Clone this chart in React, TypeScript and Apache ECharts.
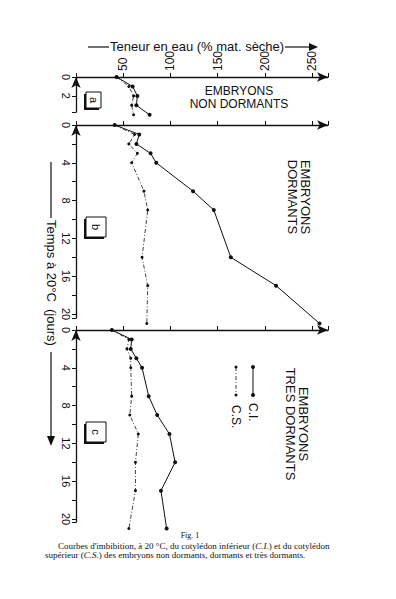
import React, { useEffect, useRef } from "react";
import * as echarts from "echarts";

// ---- data ----
const daysA = [0, 1, 2, 3, 4];
const ciA = [43, 60, 65, 64, 78];
const csA = [43, 56, 61, 59, 61];

const daysB = [0, 1, 2, 3, 4, 7, 9, 14, 17, 21];
const ciB = [41, 67, 64, 79, 85, 124, 146, 164, 212, 258];
const csB = [41, 62, 56, 65, 59, 72, 76, 70, 76, 75];

const daysC = [0, 1, 2, 3, 4, 7, 9, 11, 14, 17, 21];
const ciC = [38, 59, 58, 64, 70, 77, 86, 99, 105, 90, 96];
const csC = [38, 56, 54, 58, 58, 59, 57, 66, 63, 63, 56];

const waterTickLabels = [50, 100, 150, 200, 250];
const dayTickLabelsA = [0, 2];
const dayTickLabels = [0, 4, 8, 12, 16, 20];

const panelNames = ["a", "b", "c"];
const panelTitleA = ["EMBRYONS", "NON DORMANTS"];
const panelTitles = ["EMBRYONS\nDORMANTS", "EMBRYONS\nTRES DORMANTS"];

const INK = "#111";
const SANS = "'Liberation Sans', 'DejaVu Sans', sans-serif";
const SERIF = "'Liberation Serif', 'DejaVu Serif', serif";

const pair = (xs: number[], ys: number[]) => xs.map((d, i) => [ys[i], d]);

export default function App() {
  const ref = useRef<HTMLDivElement>(null);
  useEffect(() => {
    if (!ref.current) return;
    const chart = echarts.init(ref.current, null, { renderer: "svg" });
    const pxDay = 9.45;
    const grids = [
      { left: 76, top: 77, width: 252, height: 35 },
      { left: 76, top: 125, width: 252, height: 193 },
      { left: 76, top: 330, width: 252, height: 192 },
    ];
    const yMax = grids.map((g) => g.height / pxDay);
    const dayLabelSets = [dayTickLabelsA, dayTickLabels, dayTickLabels];

    const xAxis = grids.map((_, i) => ({
      gridIndex: i,
      type: "value",
      position: "top",
      min: 0,
      max: 267,
      interval: 50,
      axisLine: {
        show: true,
        onZero: false,
        symbol: ["none", "arrow"],
        symbolSize: [7, 11],
        lineStyle: { color: INK, width: 1.3 },
      },
      axisTick: { show: true, length: 4, lineStyle: { color: INK, width: 1 } },
      axisLabel:
        i === 0
          ? {
              show: true,
              rotate: -90,
              margin: 6,
              fontSize: 12,
              fontFamily: SANS,
              color: INK,
              formatter: (v: number) => (waterTickLabels.includes(v) ? String(v) : ""),
            }
          : { show: false },
      splitLine: { show: false },
    }));

    const yAxis = grids.map((_, i) => ({
      gridIndex: i,
      type: "value",
      inverse: true,
      min: 0,
      max: yMax[i],
      interval: 2,
      axisLine: {
        show: true,
        onZero: false,
        symbol: ["none", "arrow"],
        symbolSize: [7, 11],
        lineStyle: { color: INK, width: 1.3 },
      },
      axisTick: { show: true, length: 4, lineStyle: { color: INK, width: 1 } },
      axisLabel: {
        show: true,
        rotate: -90,
        margin: 5,
        fontSize: 11,
        fontFamily: SANS,
        color: INK,
        formatter: (v: number) => (dayLabelSets[i].includes(v) ? String(v) : ""),
      },
      splitLine: { show: false },
    }));

    const sets = [
      [daysA, ciA, csA],
      [daysB, ciB, csB],
      [daysC, ciC, csC],
    ];
    const series: any[] = [];
    sets.forEach(([d, ci, cs], i) => {
      series.push({
        type: "line",
        name: "C.I.",
        xAxisIndex: i,
        yAxisIndex: i,
        data: pair(d, ci),
        clip: false,
        symbol: "circle",
        symbolSize: 4,
        itemStyle: { color: INK },
        lineStyle: { color: INK, width: 1 },
      });
      series.push({
        type: "line",
        name: "C.S.",
        xAxisIndex: i,
        yAxisIndex: i,
        data: pair(d, cs),
        clip: false,
        symbol: "circle",
        symbolSize: 3,
        itemStyle: { color: INK },
        lineStyle: { color: INK, width: 0.8, type: [4, 2, 1, 2] },
      });
    });

    const boxes = [
      { x: 86, y: 92, w: 15, h: 16 },
      { x: 86, y: 217, w: 20, h: 20 },
      { x: 86, y: 422, w: 20, h: 20 },
    ];
    const graphic: any[] = [];
    boxes.forEach((b, i) => {
      graphic.push({ type: "rect", shape: { x: b.x - 2, y: b.y + 2, width: b.w, height: b.h }, style: { fill: INK } });
      graphic.push({ type: "rect", shape: { x: b.x, y: b.y, width: b.w, height: b.h }, style: { fill: "#fff", stroke: INK, lineWidth: 1 } });
      graphic.push({
        type: "text",
        x: b.x + b.w / 2,
        y: b.y + b.h / 2,
        rotation: -Math.PI / 2,
        style: { text: panelNames[i], fontSize: 11, fontFamily: SANS, fill: INK, align: "center", verticalAlign: "middle" },
      });
    });

    // panel titles
    graphic.push({
      type: "text", x: 239, y: 91,
      style: { text: panelTitleA[0], fontSize: 12, fontFamily: SANS, fill: INK, align: "center", verticalAlign: "middle" },
    });
    graphic.push({
      type: "text", x: 239, y: 103.5,
      style: { text: panelTitleA[1], fontSize: 12, fontFamily: SANS, fill: INK, align: "center", verticalAlign: "middle" },
    });
    graphic.push({
      type: "text", x: 299, y: 197, rotation: -Math.PI / 2,
      style: { text: panelTitles[0], fontSize: 13, lineHeight: 13, fontFamily: SANS, fill: INK, align: "center", verticalAlign: "middle" },
    });
    graphic.push({
      type: "text", x: 297, y: 424, rotation: -Math.PI / 2,
      style: { text: panelTitles[1], fontSize: 13, lineHeight: 13, fontFamily: SANS, fill: INK, align: "center", verticalAlign: "middle" },
    });

    // legend
    graphic.push({ type: "line", shape: { x1: 253, y1: 367, x2: 253, y2: 395 }, style: { stroke: INK, lineWidth: 1 } });
    graphic.push({ type: "circle", shape: { cx: 253, cy: 367, r: 2 }, style: { fill: INK } });
    graphic.push({ type: "circle", shape: { cx: 253, cy: 395, r: 2 }, style: { fill: INK } });
    graphic.push({ type: "line", shape: { x1: 236, y1: 367, x2: 236, y2: 395 }, style: { stroke: INK, lineWidth: 0.8, lineDash: [4, 2, 1, 2] } });
    graphic.push({ type: "circle", shape: { cx: 236, cy: 367, r: 1.5 }, style: { fill: INK } });
    graphic.push({ type: "circle", shape: { cx: 236, cy: 395, r: 1.5 }, style: { fill: INK } });
    graphic.push({
      type: "text", x: 253, y: 403, rotation: -Math.PI / 2,
      style: { text: "C.I.", fontSize: 12, fontFamily: SANS, fill: INK, align: "left", verticalAlign: "middle" },
    });
    graphic.push({
      type: "text", x: 236, y: 405, rotation: -Math.PI / 2,
      style: { text: "C.S.", fontSize: 12, fontFamily: SANS, fill: INK, align: "left", verticalAlign: "middle" },
    });

    // header: water content
    graphic.push({ type: "line", shape: { x1: 88, y1: 47, x2: 109, y2: 47 }, style: { stroke: INK, lineWidth: 1.2 } });
    graphic.push({
      type: "text", x: 110, y: 46,
      style: { text: "Teneur en eau (% mat. sèche)", fontSize: 13, fontFamily: SANS, fill: INK, align: "left", verticalAlign: "middle" },
    });
    graphic.push({ type: "line", shape: { x1: 285, y1: 47, x2: 311, y2: 47 }, style: { stroke: INK, lineWidth: 1.2 } });
    graphic.push({ type: "polygon", shape: { points: [[309, 43], [318, 47], [309, 51]] }, style: { fill: INK } });

    // side label: time
    graphic.push({ type: "line", shape: { x1: 51, y1: 162, x2: 51, y2: 218 }, style: { stroke: INK, lineWidth: 1.2 } });
    graphic.push({
      type: "text", x: 51, y: 220, rotation: -Math.PI / 2,
      style: { text: "Temps à 20°C  (jours)", fontSize: 13, fontFamily: SANS, fill: INK, align: "left", verticalAlign: "middle" },
    });
    graphic.push({ type: "line", shape: { x1: 51, y1: 352, x2: 51, y2: 437 }, style: { stroke: INK, lineWidth: 1.2 } });
    graphic.push({ type: "polygon", shape: { points: [[47, 436], [51, 446], [55, 436]] }, style: { fill: INK } });

    // caption
    graphic.push({
      type: "text", x: 190, y: 535,
      style: { text: "Fig. 1", fontSize: 8, fontFamily: SERIF, fill: INK, align: "center", verticalAlign: "middle" },
    });
    graphic.push({
      type: "text", x: 58, y: 546,
      style: {
        text: "Courbes d'imbibition, à 20 °C, du cotylédon inférieur ({i|C.I.}) et du cotylédon",
        fontSize: 9, fontFamily: SERIF, fill: INK, align: "left", verticalAlign: "middle",
        rich: { i: { fontStyle: "italic", fontSize: 9, fontFamily: SERIF, fill: INK } },
      },
    });
    graphic.push({
      type: "text", x: 45, y: 555,
      style: {
        text: "supérieur ({i|C.S.}) des embryons non dormants, dormants et très dormants.",
        fontSize: 9, fontFamily: SERIF, fill: INK, align: "left", verticalAlign: "middle",
        rich: { i: { fontStyle: "italic", fontSize: 9, fontFamily: SERIF, fill: INK } },
      },
    });

    chart.setOption({
      animation: false,
      backgroundColor: "#fff",
      grid: grids.map((g) => ({ ...g, containLabel: false })),
      xAxis,
      yAxis,
      series,
      graphic,
    });
    return () => chart.dispose();
  }, []);
  return <div ref={ref} style={{ position: "absolute", left: 0, top: 0, width: 396, height: 599 }} />;
}
